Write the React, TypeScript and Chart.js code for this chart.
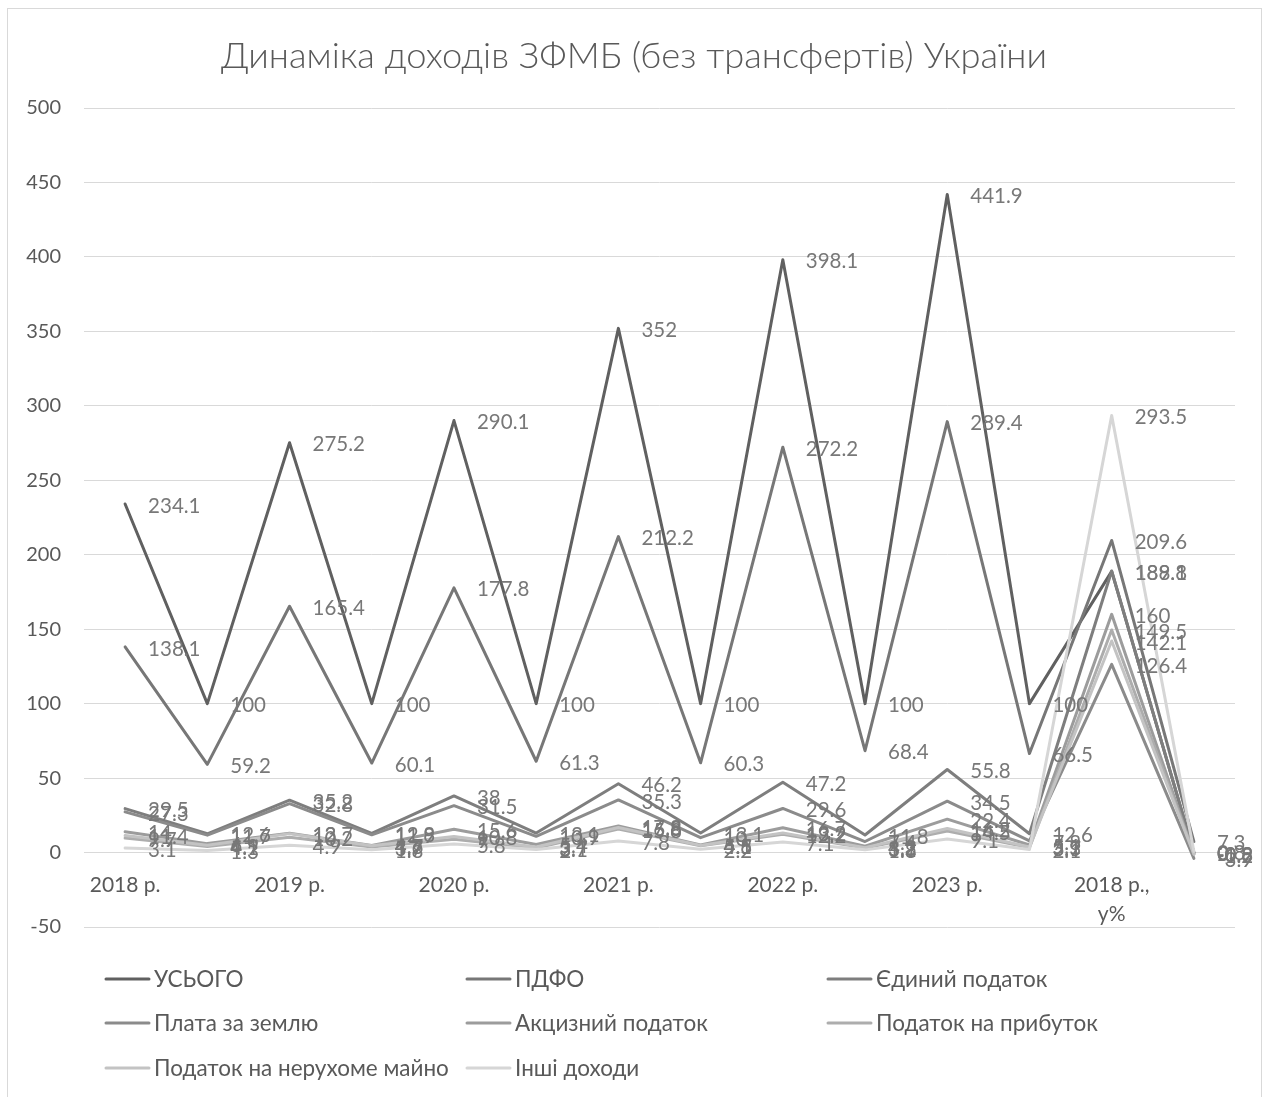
import React, { useEffect, useRef } from 'react';
import { Chart, registerables } from 'chart.js';

Chart.register(...registerables);

const chartTitle = 'Динаміка доходів ЗФМБ (без трансфертів) України';

const categories: (string | string[])[] = [
  '2018 р.', '', '2019 р.', '', '2020 р.', '', '2021 р.', '', '2022 р.', '', '2023 р.', '', ['2018 р.,', 'у%'], '',
];

const seriesNames = [
  'УСЬОГО', 'ПДФО', 'Єдиний податок', 'Плата за землю', 'Акцизний податок',
  'Податок на прибуток', 'Податок на нерухоме майно', 'Інші доходи',
];

const totalValues = [234.1, 100, 275.2, 100, 290.1, 100, 352, 100, 398.1, 100, 441.9, 100, 188.8, 0];
const pdfoValues = [138.1, 59.2, 165.4, 60.1, 177.8, 61.3, 212.2, 60.3, 272.2, 68.4, 289.4, 66.5, 209.6, 7.3];
const singleTaxValues = [29.5, 12.6, 35.2, 12.8, 38, 13.1, 46.2, 13.1, 47.2, 11.8, 55.8, 12.6, 189.1, 0];
const landFeeValues = [27.3, 11.7, 32.8, 11.9, 31.5, 10.9, 35.3, 10, 29.6, 7.4, 34.5, 7.8, 126.4, -3.9];
const exciseValues = [14, 6, 13, 4.7, 15.6, 5.4, 17.8, 5.1, 16.7, 4.2, 22.4, 5.1, 160, -0.9];
const profitTaxValues = [9.7, 4.1, 10.2, 3.7, 9, 3.1, 15.8, 4.5, 12.2, 3.1, 14.5, 3.3, 149.5, -0.8];
const propertyTaxValues = [11.4, 4.9, 12.7, 4.6, 10.8, 3.7, 16.8, 4.8, 13.2, 3.3, 16.2, 3.7, 142.1, -1.2];
const otherValues = [3.1, 1.3, 4.9, 1.8, 5.8, 2, 7.8, 2.2, 7.1, 1.8, 9.1, 2.1, 293.5, 0.8];

const seriesValues = [
  totalValues, pdfoValues, singleTaxValues, landFeeValues,
  exciseValues, profitTaxValues, propertyTaxValues, otherValues,
];

const seriesColors = ['#606060', '#777777', '#7e7e7e', '#8b8b8b', '#9c9c9c', '#adadad', '#c3c3c3', '#d6d6d6'];

const yMin = -50;
const yMax = 500;
const yStep = 50;

const FONT = 'Lato, "Open Sans", sans-serif';

const framePlugin = {
  id: 'frame',
  beforeDraw(chart: any) {
    const ctx = chart.ctx;
    ctx.save();
    ctx.fillStyle = '#ffffff';
    ctx.fillRect(0, 0, chart.width, chart.height);
    ctx.strokeStyle = '#d9d9d9';
    ctx.lineWidth = 1;
    ctx.strokeRect(7.5, 8.5, 1254, 1100);
    ctx.restore();
  },
};

const titlePlugin = {
  id: 'centeredTitle',
  afterDraw(chart: any) {
    const ctx = chart.ctx;
    ctx.save();
    ctx.font = `300 36.3px ${FONT}`;
    ctx.fillStyle = '#595959';
    ctx.textAlign = 'center';
    ctx.textBaseline = 'middle';
    ctx.fillText(chartTitle, 634, 56);
    ctx.restore();
  },
};

const dataLabelPlugin = {
  id: 'dataLabels',
  afterDatasetsDraw(chart: any) {
    const ctx = chart.ctx;
    ctx.save();
    ctx.font = `20.5px ${FONT}`;
    ctx.fillStyle = '#787878';
    ctx.textAlign = 'left';
    ctx.textBaseline = 'middle';
    chart.data.datasets.forEach((ds: any, i: number) => {
      const meta = chart.getDatasetMeta(i);
      meta.data.forEach((pt: any, j: number) => {
        ctx.fillText(String(ds.data[j]), pt.x + 23, pt.y + 2);
      });
    });
    ctx.restore();
  },
};

const legendPlugin = {
  id: 'customLegend',
  afterDraw(chart: any) {
    const ctx = chart.ctx;
    const colX = [106, 467, 828];
    const rowY = [979, 1023, 1068];
    ctx.save();
    ctx.font = `22.5px ${FONT}`;
    ctx.fillStyle = '#595959';
    ctx.textAlign = 'left';
    ctx.textBaseline = 'middle';
    chart.data.datasets.forEach((ds: any, i: number) => {
      const x = colX[i % 3];
      const y = rowY[Math.floor(i / 3)];
      ctx.strokeStyle = ds.borderColor;
      ctx.lineWidth = 3;
      ctx.lineCap = 'round';
      ctx.beginPath();
      ctx.moveTo(x, y);
      ctx.lineTo(x + 43, y);
      ctx.stroke();
      ctx.fillText(ds.label, x + 48, y + 1);
    });
    ctx.restore();
  },
};

export default function App() {
  const canvasRef = useRef<HTMLCanvasElement | null>(null);

  useEffect(() => {
    if (!canvasRef.current) return;
    const chart = new Chart(canvasRef.current, {
      type: 'line',
      data: {
        labels: categories,
        datasets: seriesNames.map((name, i) => ({
          label: name,
          data: seriesValues[i],
          borderColor: seriesColors[i],
          backgroundColor: seriesColors[i],
          borderWidth: 3,
          pointRadius: 0,
          tension: 0,
          borderJoinStyle: 'round' as const,
          borderCapStyle: 'round' as const,
          order: seriesNames.length - i,
        })),
      },
      options: {
        animation: false,
        responsive: false,
        devicePixelRatio: 1,
        layout: { padding: { left: 8, right: 34, top: 108, bottom: 170 } },
        plugins: {
          legend: { display: false },
          tooltip: { enabled: false },
          title: { display: false },
        },
        scales: {
          x: {
            type: 'category',
            position: { y: 0 } as any,
            offset: true,
            grid: { display: false, drawTicks: false },
            border: { display: true, color: '#d9d9d9', width: 1 },
            ticks: {
              autoSkip: false,
              maxRotation: 0,
              minRotation: 0,
              padding: 19,
              color: '#595959',
              font: { family: FONT, size: 21, lineHeight: 1.35 },
            },
          },
          y: {
            min: yMin,
            max: yMax,
            grid: { color: '#d9d9d9', lineWidth: 1, drawTicks: false },
            border: { display: false },
            ticks: {
              stepSize: yStep,
              padding: 23,
              color: '#595959',
              font: { family: FONT, size: 20 },
            },
            afterFit: (scale: any) => {
              scale.width = 76;
            },
          },
        },
      },
      plugins: [framePlugin, dataLabelPlugin, legendPlugin, titlePlugin],
    });
    return () => chart.destroy();
  }, []);

  return (
    <div style={{ position: 'fixed', left: 0, top: 0, width: 1269, height: 1097, background: '#fff' }}>
      <canvas ref={canvasRef} width={1269} height={1097} />
    </div>
  );
}
